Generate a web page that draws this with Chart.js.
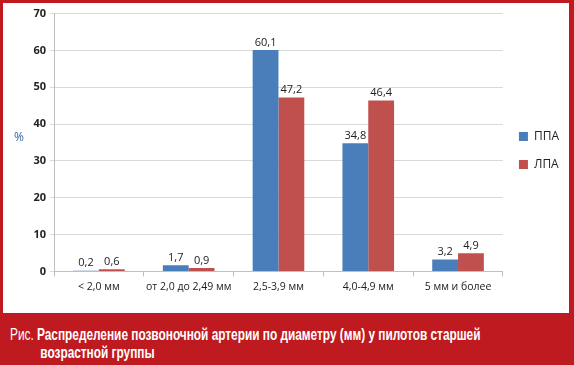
<!DOCTYPE html>
<html>
<head>
<meta charset="utf-8">
<script src="https://cdn.jsdelivr.net/npm/chart.js@4.4.0/dist/chart.umd.min.js"></script>
<style>
  html, body { margin: 0; padding: 0; }
  body { width: 574px; height: 365px; background: #be1a1f; position: relative; overflow: hidden; }
  #box { position: absolute; left: 3px; top: 3px; width: 566px; height: 310px; background: #fff; }
  #caption { position: absolute; left: 10px; top: 326px; color: #fff; font-family: "Liberation Sans", sans-serif; font-size: 16px; line-height: 18px; white-space: nowrap; transform: scaleX(0.74); transform-origin: 0 0; }
  #caption b { font-weight: bold; }
  #caption .l2 { padding-left: 41px; font-weight: bold; }
</style>
</head>
<body>
<div id="box"><canvas id="mycanvas" width="566" height="310"></canvas></div>
<div id="caption"><span>Рис.</span> <b>Распределение позвоночной артерии по диаметру (мм) у пилотов старшей</b><br><span class="l2">возрастной группы</span></div>
<script>
var categories = ["< 2,0 мм", "от 2,0 до 2,49 мм", "2,5-3,9 мм", "4,0-4,9 мм", "5 мм и более"];
var ppa = [0.2, 1.7, 60.1, 34.8, 3.2];
var lpa = [0.6, 0.9, 47.2, 46.4, 4.9];
var seriesNames = ["ППА", "ЛПА"];

// values above bars, comma decimals
var valueLabels = {
	id: 'valueLabels',
	afterDatasetsDraw: function(chart) {
		var ctx = chart.ctx;
		ctx.save();
		ctx.font = '11px "Open Sans", sans-serif';
		ctx.fillStyle = '#222';
		ctx.textAlign = 'center';
		ctx.textBaseline = 'bottom';
		chart.data.datasets.forEach(function(ds, i) {
			chart.getDatasetMeta(i).data.forEach(function(bar, j) {
				ctx.fillText(ds.data[j].toFixed(1).replace('.', ','), bar.x, bar.y - 2);
			});
		});
		// % label
		ctx.fillStyle = '#2f5fa8';
		ctx.font = '12px "Open Sans", sans-serif';
		ctx.textAlign = 'left';
		ctx.textBaseline = 'middle';
		ctx.fillText('%', 11, 135);
		ctx.restore();
	}
};

var chartdata = {
	labels: categories,
	datasets: [
		{ label: seriesNames[0], backgroundColor: '#4a7ebb', data: ppa },
		{ label: seriesNames[1], backgroundColor: '#c0504d', data: lpa }
	]
};

new Chart(document.getElementById('mycanvas'), {
	type: 'bar',
	data: chartdata,
	plugins: [valueLabels],
	options: {
		responsive: false,
		animation: false,
		layout: { padding: { top: 1, right: 0, bottom: 16, left: 0 } },
		datasets: { bar: { barPercentage: 1, categoryPercentage: 0.575 } },
		plugins: {
			tooltip: { enabled: false },
			legend: {
				position: 'right',
				labels: { boxWidth: 9, boxHeight: 9, padding: 16, color: '#222', font: { size: 12, family: '"Open Sans", sans-serif' } }
			}
		},
		scales: {
			x: {
				grid: { drawOnChartArea: false, tickLength: 5, color: '#bfbfbf' },
				border: { color: '#bfbfbf' },
				ticks: { color: '#222', padding: 4, maxRotation: 0, font: { size: 10.5, family: '"Open Sans", sans-serif' } }
			},
			y: {
				min: 0, max: 70,
				afterFit: function(s) { s.width = 51; },
				grid: { color: '#d9d9d9', tickLength: 4 },
				border: { color: '#bfbfbf' },
				ticks: { stepSize: 10, color: '#222', padding: 4, font: { size: 11, weight: 'bold', family: '"Open Sans", sans-serif' } }
			}
		}
	}
});
</script>
</body>
</html>
